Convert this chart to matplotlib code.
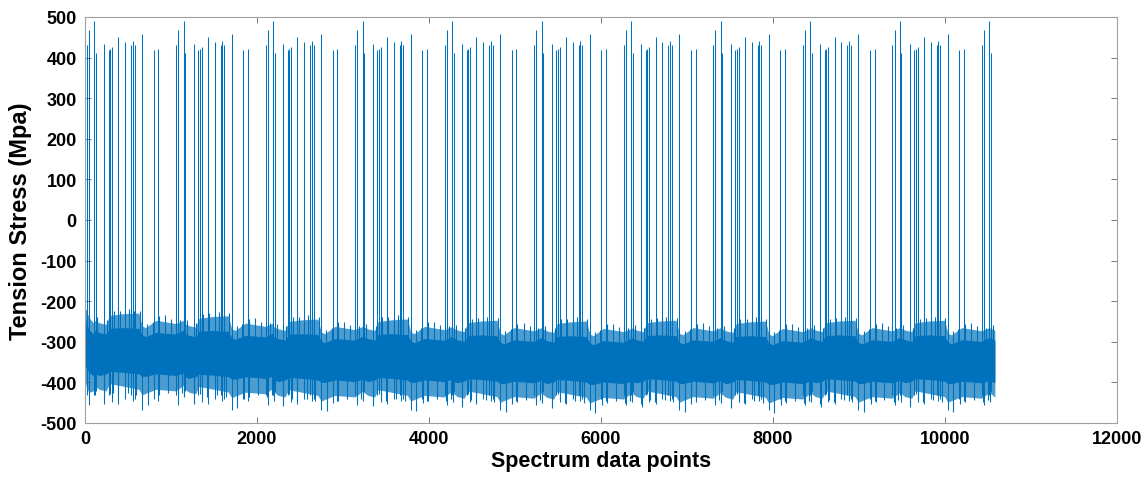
import numpy as np
import matplotlib
matplotlib.use("Agg")
import matplotlib.pyplot as plt

plt.rcParams['font.family'] = ['Liberation Sans', 'DejaVu Sans']
plt.rcParams['axes.unicode_minus'] = False

COLOR = "#0072BD"

# ---- data -----------------------------------------------------------
# The load spectrum is a block that repeats; the tall spike of each block
# sits at first_tall_spike + k * block_length.
first_tall_spike = 105
block_length = 1041
block_index = list(range(-1, 11))
n_points = 10580
start_value = 245

# spikes within one block (offset from the tall spike, peak, trough)
spike_offset = [0, 20, 116, 170, 186, 209, 283, 360, 430, 449, 472, 558, 693, 748, 954, 980]
spike_peak = [490, 412, 434, 418, 422, 426, 451, 438, 430, 442, 430, 459, 418, 422, 430, 467]
spike_trough = [-432, -420, -452, -430, -428, -448, -452, -440, -432, -446, -440, -468, -442, -446, -432, -456]

# noise band envelope within one block
band_offset = [0, 60, 140, 180, 330, 520, 560, 600, 720, 950, 1041]
band_upper_outer = [-262, -268, -272, -250, -246, -244, -276, -280, -262, -270, -262]
band_upper_core = [-286, -292, -296, -282, -280, -282, -298, -302, -292, -296, -286]
band_lower_core = [-392, -398, -394, -388, -390, -394, -400, -400, -394, -398, -392]
band_lower_outer = [-422, -432, -436, -418, -424, -432, -446, -442, -432, -436, -422]

# single jags that leave the band, within one block
tail_down_offset = [9, 120, 217, 275, 391, 488, 623, 701, 759, 860, 973, 1025]
tail_down_value = [-445, -458, -440, -445, -440, -445, -470, -450, -445, -440, -445, -440]
tail_up_offset = [40, 150, 230, 300, 360, 410, 470, 530, 620, 680, 760, 830, 900, 1000]
tail_up_value = [-255, -262, -240, -238, -242, -235, -240, -238, -270, -265, -252, -250, -258, -262]

# vertical shift of the band for each block (block -1 .. 10)
block_shift = [25, 15, 8, 0, 0, -3, -5, -3, -5, -3, -3, -3]

# the first samples before the first tall spike
start_x = [0, 15, 45, 105]
start_upper_outer = [-215, -222, -240, -255]
start_upper_core = [-245, -255, -270, -282]
start_lower_core = [-355, -365, -375, -385]
start_lower_outer = [-395, -410, -425, -420]

x_ticks = [0, 2000, 4000, 6000, 8000, 10000, 12000]
y_ticks = [-500, -400, -300, -200, -100, 0, 100, 200, 300, 400, 500]

# ---- figure ---------------------------------------------------------
fig = plt.figure(figsize=(11.48, 4.81), dpi=100)
ax = fig.add_axes([85 / 1148, 1 - 424 / 481, (1117 - 85) / 1148, (424 - 18) / 481])

# band
for k, sh in zip(block_index, block_shift):
    base = first_tall_spike + k * block_length
    bx = np.clip(np.array(band_offset) + base, start_x[-1], n_points)
    uo = np.array(band_upper_outer) + sh
    uc = np.array(band_upper_core) + sh
    lc = np.array(band_lower_core) + sh
    lo = np.array(band_lower_outer) + sh
    ax.fill_between(bx, lo, uo, color=COLOR, alpha=0.7, lw=0)
    ax.fill_between(bx, lc, uc, color=COLOR, lw=0)

ax.fill_between(start_x, start_lower_outer, start_upper_outer, color=COLOR, alpha=0.7, lw=0)
ax.fill_between(start_x, start_lower_core, start_upper_core, color=COLOR, lw=0)
ax.plot([0, 0, 8], [start_value, start_lower_core[0], start_upper_core[0]], color=COLOR, lw=1.0)

# tails
tdx, tdv, tdb, tux, tuv, tub = [], [], [], [], [], []
for k, sh in zip(block_index, block_shift):
    base = first_tall_spike + k * block_length
    for o, v in zip(tail_down_offset, tail_down_value):
        pos = base + o
        if start_x[-1] <= pos <= n_points:
            tdx.append(pos); tdv.append(v + sh); tdb.append(-380 + sh)
    for o, v in zip(tail_up_offset, tail_up_value):
        pos = base + o
        if start_x[-1] <= pos <= n_points:
            tux.append(pos); tuv.append(v + sh); tub.append(-300 + sh)
ax.vlines(tdx, tdv, tdb, color=COLOR, lw=0.8)
ax.vlines(tux, tub, tuv, color=COLOR, lw=0.8)

# spikes
sx, sp, st = [], [], []
for k in block_index:
    base = first_tall_spike + k * block_length
    for o, p, t in zip(spike_offset, spike_peak, spike_trough):
        pos = base + o
        if 0 <= pos <= n_points:
            sx.append(pos); sp.append(p); st.append(t)
ax.vlines(sx, st, sp, color=COLOR, lw=0.75)

ax.set_xlim(0, 12000)
ax.set_ylim(-500, 500)
ax.set_xticks(x_ticks)
ax.set_yticks(y_ticks)
ax.tick_params(direction='in', top=True, right=True, length=4, width=0.6,
               color='#606060', labelsize=13, pad=5)
ax.tick_params(axis='y', pad=6)
for lab in ax.get_xticklabels() + ax.get_yticklabels():
    lab.set_fontweight('bold')
for s in ax.spines.values():
    s.set_color('#a0a0a0')
    s.set_linewidth(0.8)

ax.set_xlabel("Spectrum data points", fontsize=15.5, fontweight='bold', labelpad=2)
ax.set_ylabel("Tension Stress (Mpa)", fontsize=17, fontweight='bold', labelpad=6)

fig.savefig("out.png", dpi=100)
